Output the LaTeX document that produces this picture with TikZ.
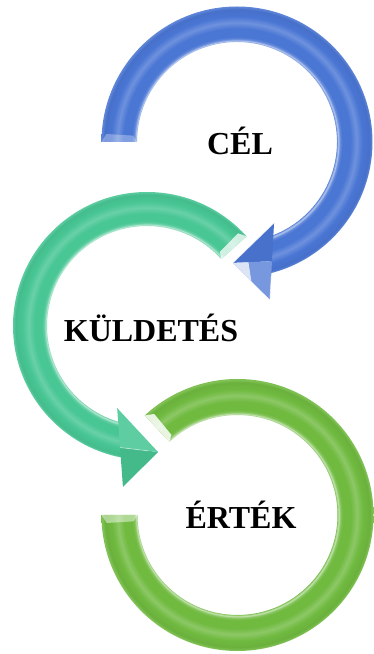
\documentclass[tikz,border=0pt]{standalone}
\usepackage{fontspec}
\setmainfont{Liberation Serif}
\usetikzlibrary{calc}
\definecolor{cblue}{RGB}{74,118,212}
\definecolor{cteal}{RGB}{72,198,148}
\definecolor{cgreen}{RGB}{112,186,64}
% tube-like radial profiles, radii in bp measured from each ring's centre
\pgfdeclareradialshading{blueTube}{\pgfpoint{0bp}{0bp}}{%
  color(0bp)=(cblue); color(99.5bp)=(cblue); color(100.5bp)=(cblue!30!white);
  color(102.5bp)=(cblue!85!white); color(105bp)=(cblue); color(113bp)=(cblue);
  color(119bp)=(cblue!80!white); color(125bp)=(cblue); color(132bp)=(cblue!95!black);
  color(135bp)=(cblue!88!white); color(137bp)=(cblue); color(180bp)=(cblue)}
\pgfdeclareradialshading{tealTube}{\pgfpoint{0bp}{0bp}}{%
  color(0bp)=(cteal); color(99.5bp)=(cteal); color(100.5bp)=(cteal!30!white);
  color(102.5bp)=(cteal!85!white); color(105bp)=(cteal); color(112bp)=(cteal);
  color(118bp)=(cteal!82!white); color(124bp)=(cteal); color(131bp)=(cteal!95!black);
  color(133.5bp)=(cteal!88!white); color(136bp)=(cteal); color(180bp)=(cteal)}
\pgfdeclareradialshading{greenTube}{\pgfpoint{0bp}{0bp}}{%
  color(0bp)=(cgreen); color(99.5bp)=(cgreen); color(100.5bp)=(cgreen!30!white);
  color(102.5bp)=(cgreen!85!white); color(105bp)=(cgreen); color(113bp)=(cgreen);
  color(119bp)=(cgreen!80!white); color(125bp)=(cgreen); color(132bp)=(cgreen!95!black);
  color(135bp)=(cgreen!88!white); color(137bp)=(cgreen); color(180bp)=(cgreen)}
\begin{document}
\begin{tikzpicture}[x=1pt,y=1pt,
  label/.style={font=\fontsize{32}{38}\selectfont\bfseries, text=black, inner sep=0pt, anchor=base},
  bevel/.style={fill=white, fill opacity=0.55},
  edgeglint/.style={white, opacity=0.75, line width=0.8pt}]
\useasboundingbox (0,0) rectangle (373,654);
\coordinate (bc) at (237,512);
\coordinate (tc) at (147,328);
\coordinate (gc) at (237.5,139);

% green ring (no head)
\begin{scope}[shift={(gc)}]
  \begin{scope}
    \clip (-180:136) arc[start angle=-180, end angle=133, radius=136]
      -- (133:100) arc[start angle=133, end angle=-180, radius=100] -- cycle;
    \pgftext[at=\pgfpointorigin]{\pgfuseshading{greenTube}}
  \end{scope}
  \fill[bevel, fill opacity=0.45] (-180:136) -- (-180:100) -- (-176.5:104) -- (-176.5:131) -- cycle;
  \fill[bevel, fill opacity=0.85] (133:136) -- (133:100) -- (129.5:104) -- (129.5:131) -- cycle;
\end{scope}

% teal arrow
\begin{scope}[shift={(tc)}]
  \begin{scope}
    \clip (42:134) arc[start angle=42, end angle=258.9, radius=134]
      -- (254:100) arc[start angle=254, end angle=42, radius=100] -- cycle;
    \pgftext[at=\pgfpointorigin]{\pgfuseshading{tealTube}}
  \end{scope}
  \fill[bevel, fill opacity=0.75] (42:134) -- (42:100) -- (45.5:104) -- (45.5:130) -- cycle;
  \coordinate (tT) at (275:126.5);
  \coordinate (tO) at (261.5:162.8);
  \coordinate (tI) at (250:87.3);
  \coordinate (tB) at ($(tO)!0.5!(tI)$);
  \fill[cteal!94!black] (tT) -- (tO) -- (tB) -- cycle;
  \fill[cteal!88!white] (tT) -- (tI) -- (tB) -- cycle;
  \draw[edgeglint, opacity=0.4] (tB) -- ($(tB)!0.75!(tT)$);
\end{scope}

% blue arrow
\begin{scope}[shift={(bc)}]
  \begin{scope}
    \clip (180:135.5) arc[start angle=180, end angle=-76.6, radius=135.5]
      -- (-69.4:100) arc[start angle=-69.4, end angle=180, radius=100] -- cycle;
    \pgftext[at=\pgfpointorigin]{\pgfuseshading{blueTube}}
  \end{scope}
  \fill[bevel, fill opacity=0.3] (180:135.5) -- (180:100) -- (176.5:104) -- (176.5:131) -- cycle;
  \coordinate (bT) at (-92:121);
  \coordinate (bO) at (-78.2:161);
  \coordinate (bI) at (-65.4:89);
  \coordinate (bB) at ($(bO)!0.5!(bI)$);
  \fill[cblue!96!black] (bT) -- (bI) -- (bB) -- cycle;
  \fill[cblue!75!white] (bT) -- (bO) -- (bB) -- cycle;
  \fill[white, opacity=0.75] (bT) -- ($(bT)!0.5!(bO)$) -- ($(bT)!0.4!(bB)$) -- cycle;
  \draw[edgeglint] (bT) -- (bI);
  \draw[edgeglint, opacity=0.5] (bO) -- ($(bO)!0.3!(bI)$);
\end{scope}

\node[label] (cel) at (240,499) {CÉL};
\node[label] (kuldetes) at (151,312) {KÜLDETÉS};
\node[label] (ertek) at (241,125) {ÉRTÉK};
\end{tikzpicture}
\end{document}
